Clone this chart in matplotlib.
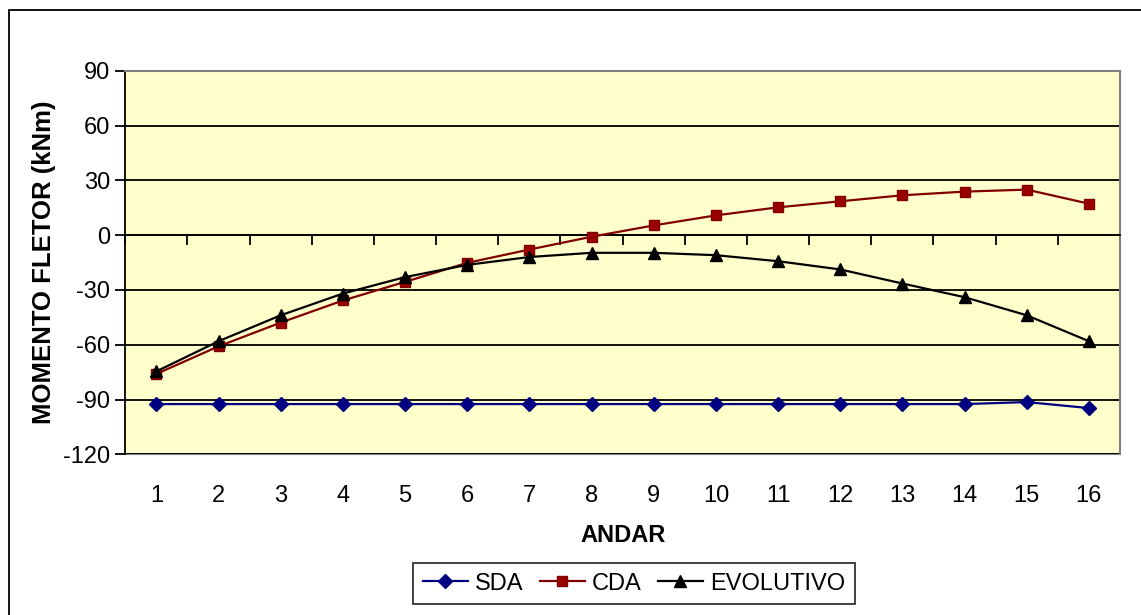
import matplotlib
matplotlib.use("Agg")
import matplotlib.pyplot as plt
from matplotlib.patches import Rectangle

plt.rcParams['font.family'] = ['Liberation Sans', 'DejaVu Sans']

andar = list(range(1, 17))
sda = [-92.5, -92.5, -92.5, -92.5, -92.5, -92.5, -92.5, -92.5,
       -92.5, -92.5, -92.5, -92.5, -92.5, -92.5, -91.4, -94.7]
cda = [-76.0, -60.9, -47.9, -35.8, -25.6, -15.2, -7.9, -0.9,
       5.3, 10.8, 15.2, 18.5, 21.8, 23.8, 24.9, 17.2]
evolutivo = [-74.6, -58.1, -43.9, -32.0, -23.0, -16.3, -12.0, -9.7,
             -9.7, -11.0, -14.3, -18.8, -26.5, -34.0, -43.9, -58.1]
yticks = [-120, -90, -60, -30, 0, 30, 60, 90]
series_names = ['SDA', 'CDA', 'EVOLUTIVO']

W, H = 1141, 615
fig = plt.figure(figsize=(W / 100, H / 100), dpi=100)
fig.patch.set_facecolor('white')

# outer chart border
fig.patches.append(Rectangle((9 / W, -0.1), 1.2, 1 - 10 / H + 0.1,
                             transform=fig.transFigure, fill=False,
                             edgecolor='black', linewidth=1.3))

left, right, top, bottom = 125.3, 1120, 70.7, 454.3
ax = fig.add_axes([left / W, 1 - bottom / H, (right - left) / W, (bottom - top) / H])
ax.set_facecolor('#FFFFCC')

ax.plot(andar, sda, color='#000080', marker='D', markersize=7.5, linewidth=1.6,
        label=series_names[0], zorder=4)
ax.plot(andar, cda, color='#800000', marker='s', markersize=6.5, linewidth=1.6,
        markerfacecolor='#990000', markeredgecolor='#800000',
        label=series_names[1], zorder=4)
ax.plot(andar, evolutivo, color='black', marker='^', markersize=9, linewidth=1.6,
        label=series_names[2], zorder=4)

ax.set_xlim(0.5, 16.5)
ax.set_ylim(yticks[0], yticks[-1])
ax.set_yticks(yticks)
ax.set_yticklabels([str(v) for v in yticks], fontsize=17)
ax.tick_params(axis='y', direction='out', length=7, width=1.3, pad=4)
ax.yaxis.grid(True, color='black', linewidth=1.3)
ax.set_axisbelow(True)

# category axis crossing at 0 with boundary ticks
ax.spines['bottom'].set_position(('data', 0))
ax.spines['bottom'].set_color('black')
ax.spines['bottom'].set_linewidth(1.3)
ax.set_xticks([i + 0.5 for i in range(0, 17)])
ax.tick_params(axis='x', direction='out', length=7, width=1.3, labelbottom=False)
ax.spines['left'].set_color('black')
ax.spines['left'].set_linewidth(1.3)
for s in ['top', 'right']:
    ax.spines[s].set_color('#808080')
    ax.spines[s].set_linewidth(1.5)

# category labels at the bottom of the plot area
sec = ax.secondary_xaxis('bottom')
sec.set_xticks(andar)
sec.set_xticklabels([str(a) for a in andar], fontsize=17)
sec.tick_params(axis='x', length=0, pad=22)
sec.spines['bottom'].set_color('#808080')
sec.spines['bottom'].set_linewidth(1.5)
sec.set_xlabel('ANDAR', fontsize=17, fontweight='bold', labelpad=12)

ax.set_ylabel('MOMENTO FLETOR (kNm)', fontsize=18.5, fontweight='bold', labelpad=5)

leg = fig.legend(loc='center', bbox_to_anchor=(634 / W, 1 - 583.5 / H), ncol=3,
                 fontsize=17, frameon=True, fancybox=False, edgecolor='black',
                 handlelength=1.9, handletextpad=0.3, columnspacing=0.7,
                 borderpad=0.4, borderaxespad=0)
leg.get_frame().set_linewidth(1.3)

fig.savefig('out.png', dpi=100)
